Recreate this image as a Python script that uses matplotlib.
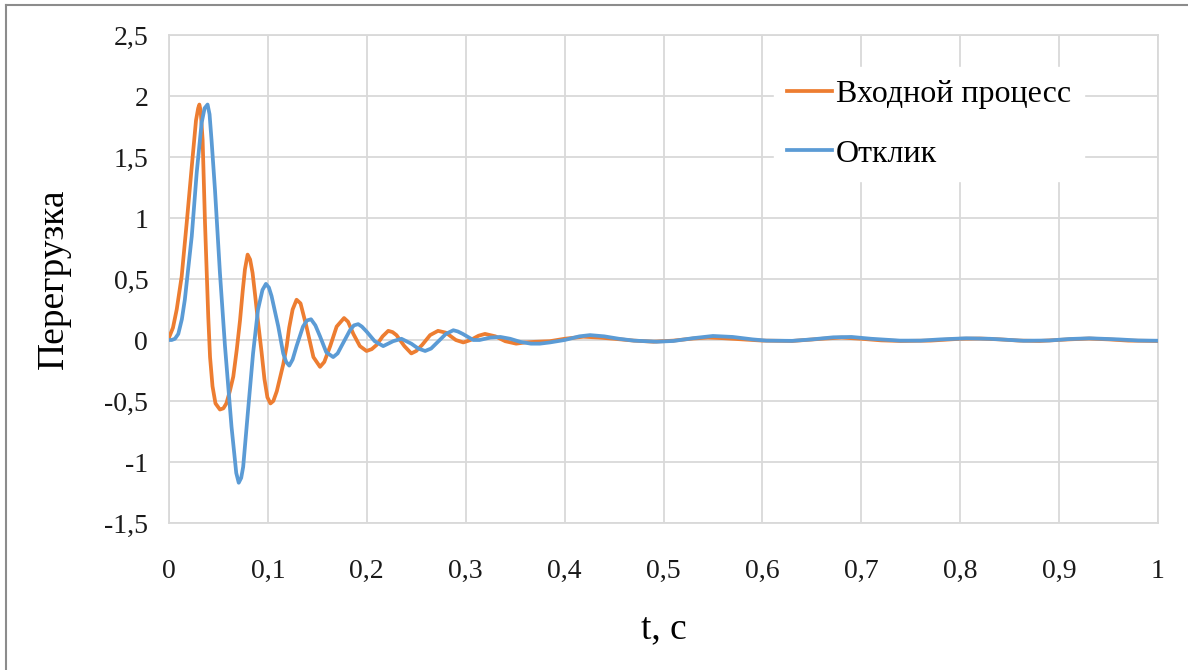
import matplotlib
matplotlib.use("Agg")
import matplotlib.pyplot as plt
from matplotlib.lines import Line2D
from matplotlib.ticker import FuncFormatter

plt.rcParams['font.family'] = ['Liberation Serif', 'DejaVu Serif']

# Входной процесс (перегрузка во времени)
t_input = [0.0, 0.004, 0.0078, 0.0128, 0.0179, 0.023, 0.0273, 0.0295, 0.0307, 0.032,
           0.034, 0.0364, 0.0397, 0.0415, 0.044, 0.047, 0.0515, 0.055, 0.058, 0.0615,
           0.065, 0.0685, 0.0718, 0.0745, 0.0768, 0.0795, 0.082, 0.0845, 0.0869, 0.090,
           0.0936, 0.0965, 0.0995, 0.1026, 0.1055, 0.109, 0.1155, 0.119, 0.1215, 0.125,
           0.129, 0.133, 0.139, 0.146, 0.1527, 0.157, 0.163, 0.1695, 0.177, 0.181,
           0.1864, 0.193, 0.1997, 0.205, 0.21, 0.216, 0.2217, 0.226, 0.23, 0.238,
           0.245, 0.25, 0.256, 0.264, 0.272, 0.28, 0.29, 0.2976, 0.305, 0.313,
           0.3195, 0.33, 0.34, 0.351, 0.36, 0.37, 0.385, 0.40, 0.419, 0.435,
           0.45, 0.47, 0.49, 0.51, 0.53, 0.545, 0.56, 0.58, 0.60, 0.63,
           0.66, 0.68, 0.70, 0.72, 0.74, 0.77, 0.80, 0.82, 0.84, 0.86,
           0.88, 0.91, 0.93, 0.95, 0.97, 1.0]
y_input = [0.02, 0.10, 0.25, 0.52, 0.96, 1.42, 1.80, 1.90, 1.93, 1.88,
           1.64, 0.96, 0.19, -0.14, -0.38, -0.52, -0.57, -0.56, -0.52, -0.42,
           -0.30, -0.08, 0.16, 0.40, 0.58, 0.70, 0.66, 0.55, 0.38, 0.15,
           -0.10, -0.32, -0.47, -0.52, -0.50, -0.42, -0.20, -0.05, 0.10, 0.25,
           0.33, 0.30, 0.11, -0.14, -0.22, -0.18, -0.05, 0.11, 0.18, 0.15,
           0.05, -0.05, -0.09, -0.075, -0.04, 0.03, 0.075, 0.065, 0.04, -0.05,
           -0.11, -0.09, -0.04, 0.04, 0.075, 0.06, 0.0, -0.02, 0.0, 0.035,
           0.05, 0.03, -0.01, -0.03, -0.02, -0.015, -0.01, 0.01, 0.027, 0.02,
           0.01, -0.005, -0.014, -0.005, 0.012, 0.02, 0.015, 0.005, -0.005, -0.008,
           0.01, 0.02, 0.01, -0.003, -0.008, -0.005, 0.01, 0.012, 0.005, -0.005,
           -0.008, 0.005, 0.012, 0.005, -0.005, -0.008]

# Отклик системы
t_response = [0.0, 0.0027, 0.006, 0.0094, 0.013, 0.016, 0.023, 0.028, 0.033, 0.036,
              0.039, 0.041, 0.043, 0.0465, 0.0515, 0.0566, 0.0632, 0.068, 0.0705, 0.073,
              0.075, 0.080, 0.085, 0.090, 0.0945, 0.098, 0.101, 0.1037, 0.1105, 0.1155,
              0.1185, 0.1216, 0.125, 0.129, 0.1355, 0.1395, 0.1436, 0.148, 0.1527, 0.159,
              0.166, 0.1705, 0.1744, 0.183, 0.187, 0.1913, 0.195, 0.1997, 0.208, 0.2166,
              0.2266, 0.235, 0.245, 0.252, 0.259, 0.265, 0.27, 0.28, 0.2875, 0.292,
              0.297, 0.3076, 0.314, 0.325, 0.335, 0.345, 0.355, 0.366, 0.375, 0.385,
              0.40, 0.415, 0.4257, 0.44, 0.455, 0.47, 0.493, 0.51, 0.53, 0.55,
              0.57, 0.59, 0.604, 0.63, 0.65, 0.6717, 0.69, 0.71, 0.739, 0.76,
              0.78, 0.806, 0.83, 0.864, 0.89, 0.91, 0.931, 0.96, 0.98, 1.0]
y_response = [0.0, 0.0, 0.01, 0.05, 0.17, 0.33, 0.85, 1.37, 1.78, 1.90,
              1.93, 1.85, 1.64, 1.23, 0.55, -0.05, -0.71, -1.09, -1.17, -1.13,
              -1.04, -0.57, -0.11, 0.25, 0.41, 0.46, 0.43, 0.36, 0.11, -0.11,
              -0.18, -0.21, -0.16, -0.05, 0.11, 0.16, 0.17, 0.12, 0.03, -0.10,
              -0.14, -0.11, -0.05, 0.08, 0.12, 0.13, 0.11, 0.07, -0.01, -0.05,
              -0.01, 0.01, -0.03, -0.07, -0.09, -0.07, -0.03, 0.05, 0.08, 0.07,
              0.05, 0.0, 0.0, 0.02, 0.025, 0.01, -0.015, -0.03, -0.03, -0.02,
              0.0, 0.03, 0.04, 0.03, 0.01, -0.005, -0.014, -0.008, 0.015, 0.033,
              0.025, 0.005, -0.005, -0.007, 0.005, 0.022, 0.025, 0.01, -0.005, -0.005,
              0.005, 0.014, 0.01, -0.006, -0.004, 0.008, 0.014, 0.005, -0.004, -0.006]

series_labels = ['Входной процесс', 'Отклик']
x_ticks = [0, 0.1, 0.2, 0.3, 0.4, 0.5, 0.6, 0.7, 0.8, 0.9, 1.0]
y_ticks = [-1.5, -1.0, -0.5, 0.0, 0.5, 1.0, 1.5, 2.0, 2.5]

orange = '#ed7d31'
blue = '#5b9bd5'
grid_color = '#d9d9d9'
line_w = 2.7

fig = plt.figure(figsize=(11.88, 6.70), dpi=100)
ax = fig.add_axes([169 / 1188, 1 - 523 / 670, (1158 - 169) / 1188, (523 - 35) / 670])

ax.plot(t_input, y_input, color=orange, lw=line_w, solid_joinstyle='round', zorder=3)
ax.plot(t_response, y_response, color=blue, lw=line_w, solid_joinstyle='round', zorder=4)

ax.set_xlim(0, 1)
ax.set_ylim(-1.5, 2.5)
ax.set_xticks(x_ticks)
ax.set_yticks(y_ticks)


def comma_fmt(v, pos):
    s = '%g' % round(v, 2)
    return s.replace('.', ',')


ax.xaxis.set_major_formatter(FuncFormatter(comma_fmt))
ax.yaxis.set_major_formatter(FuncFormatter(comma_fmt))
ax.tick_params(axis='both', length=0, labelsize=20, colors='#1a1a1a')
ax.tick_params(axis='x', pad=26)
ax.tick_params(axis='y', pad=15)

ax.grid(True, color=grid_color, lw=1.3, zorder=0)
ax.set_axisbelow(True)
for sp in ax.spines.values():
    sp.set_color(grid_color)
    sp.set_linewidth(1.3)

ax.set_xlabel('t, c', fontsize=27, labelpad=20)
ax.set_ylabel('Перегрузка', fontsize=27, labelpad=24)

handles = [Line2D([], [], color=orange, lw=line_w), Line2D([], [], color=blue, lw=line_w)]
leg = ax.legend(handles, series_labels, loc='upper left', bbox_to_anchor=(0.612, 0.935),
                fontsize=23, frameon=True, handlelength=1.4, handletextpad=0.12,
                labelspacing=0.95, borderpad=0.4, borderaxespad=0.0)
leg.get_frame().set_facecolor('white')
leg.get_frame().set_edgecolor('white')
leg.get_frame().set_alpha(1.0)
leg.get_frame().set_boxstyle('square', pad=0.0)

# outer chart border (top and left)
fig.add_artist(Line2D([6 / 1188, 1.0], [1 - 5 / 670, 1 - 5 / 670], color='#8c8c8c', lw=1.5,
                      transform=fig.transFigure))
fig.add_artist(Line2D([6 / 1188, 6 / 1188], [0.0, 1 - 5 / 670], color='#8c8c8c', lw=1.5,
                      transform=fig.transFigure))

fig.savefig('out.png', dpi=100, facecolor='white')
